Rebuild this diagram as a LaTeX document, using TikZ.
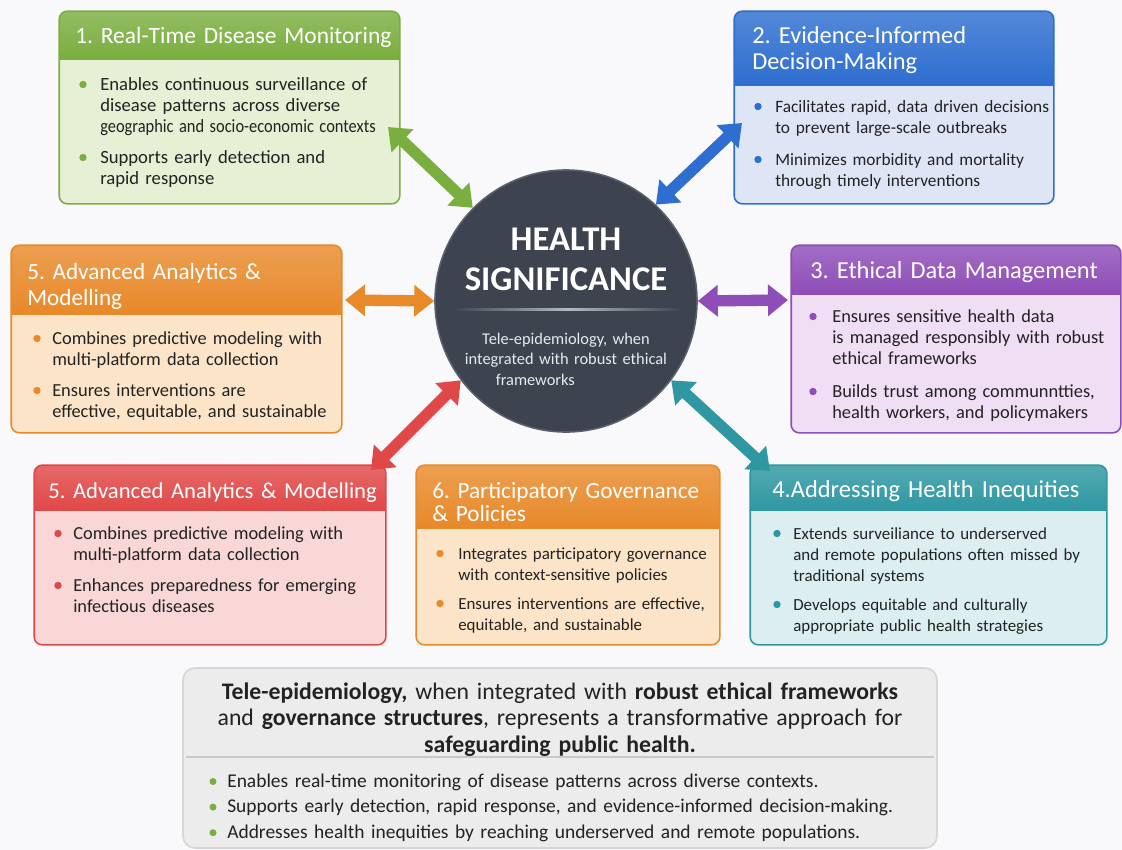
\documentclass[tikz,border=0pt]{standalone}
\usepackage{fontspec}
\setmainfont{Carlito}
\usepackage{graphicx}
\usetikzlibrary{arrows.meta}
\frenchspacing
\definecolor{bg}{HTML}{F9F9FB}
\definecolor{ink}{HTML}{222222}
\definecolor{cgreen}{HTML}{7AAE3F}
\definecolor{lgreen}{HTML}{E6F0D5}
\definecolor{cblue}{HTML}{2E6ED0}
\definecolor{lblue}{HTML}{DEE6F6}
\definecolor{corange}{HTML}{E8892A}
\definecolor{lorange}{HTML}{FCE4C8}
\definecolor{cpurple}{HTML}{8E4DB7}
\definecolor{lpurple}{HTML}{F0DEF4}
\definecolor{cred}{HTML}{E04848}
\definecolor{lred}{HTML}{F9D7D7}
\definecolor{cteal}{HTML}{2E97A1}
\definecolor{lteal}{HTML}{DCEEF0}
\definecolor{hubfill}{HTML}{3D4450}
\definecolor{hubrim}{HTML}{59606B}
\definecolor{hubrule}{HTML}{B4B9C0}
\definecolor{hubtext}{HTML}{E8EAED}
\definecolor{sumfill}{HTML}{ECECEC}
\definecolor{sumline}{HTML}{D6D6D6}
\definecolor{sumrule}{HTML}{C8C8C8}

\begin{document}
\begin{tikzpicture}[x=0.75pt,y=-0.75pt,
  panel/.style={rectangle,rounded corners=6pt,line width=1.2pt,inner sep=0pt},
  head/.style={anchor=base west,text width=300pt,align=left,inner sep=0pt,text=white,font=\fontsize{18.3}{20}\selectfont},
  item/.style={anchor=base west,text width=260pt,align=left,inner sep=0pt,text=ink,font=\fontsize{13.8}{16}\selectfont},
  itemsm/.style={item,font=\fontsize{12.7}{15.8}\selectfont},
  twoway/.style={draw=#1,line width=8.5pt,{Triangle[length=15pt,width=23pt]}-{Triangle[length=15pt,width=23pt]}}]
  \fill[bg] (0,0) rectangle (1122,850);
  \useasboundingbox (0,0) rectangle (1122,850);

  % panels: body, shaded header strip, border
  \foreach \name/\col/\lite/\xa/\ya/\xb/\yb/\yh in {mon/cgreen/lgreen/60/12/399/203/59, dec/cblue/lblue/735/12/1053/203/85, ana/corange/lorange/12/246/341/432/314, eth/cpurple/lpurple/792/246/1120/432/294, mod/cred/lred/35/466/385/644/510, gov/corange/lorange/417/466/719/644/528, ineq/cteal/lteal/751/466/1106/644/510}{
    \pgfmathsetmacro{\w}{(\xb-\xa)*0.75}
    \pgfmathsetmacro{\h}{(\yb-\ya)*0.75}
    \node[panel, fill=\lite, minimum width=\w pt, minimum height=\h pt] (\name) at ({(\xa+\xb)/2},{(\ya+\yb)/2}) {};
    \begin{scope}
      \clip[rounded corners=6pt] (\name.north west) rectangle (\name.south east);
      \shade[top color=\col!82!white, bottom color=\col] (\xa,\ya) rectangle (\xb,\yh);
    \end{scope}
    \draw[\col, line width=1.2pt, rounded corners=6pt] (\name.north west) rectangle (\name.south east);
  }

  % 1
  \node[head, font=\fontsize{17.6}{20}\selectfont] (mon-title) at (75,43) {1. Real-Time Disease Monitoring};
  \node[item, font=\fontsize{14}{16}\selectfont] (mon-i1) at (100,90) {Enables continuous surveillance of\\disease patterns across diverse\\\scalebox{0.88}[1]{geographic and socio-economic contexts}};
  \node[item, font=\fontsize{14}{16}\selectfont] (mon-i2) at (100,163) {Supports early detection and\\rapid response};
  \foreach \y in {90,163} \fill[cgreen] (83,\y-5.5) circle (3.7);

  % 2
  \node[head] (dec-title) at (752,43) {2. Evidence-Informed\\Decision-Making};
  \node[item, font=\fontsize{13}{16}\selectfont] (dec-i1) at (775,112) {Facilitates rapid, data driven decisions\\to prevent large-scale outbreaks};
  \node[item, font=\fontsize{13}{16}\selectfont] (dec-i2) at (775,165) {Minimizes morbidity and mortality\\through timely interventions};
  \foreach \y in {112,165} \fill[cblue] (758,\y-5.5) circle (3.7);

  % 5 (left)
  \node[head, font=\fontsize{17.4}{19.5}\selectfont] (ana-title) at (27,279) {5. Advanced Analytics \&\\Modelling};
  \node[item] (ana-i1) at (52,344) {Combines predictive modeling with\\multi-platform data collection};
  \node[item] (ana-i2) at (52,396) {Ensures interventions are\\effective, equitable, and sustainable};
  \foreach \y in {344,396} \fill[corange] (37,\y-5.5) circle (3.7);

  % 3
  \node[head] (eth-title) at (810,278) {3. Ethical Data Management};
  \node[item] (eth-i1) at (832,322) {Ensures sensitive health data\\is managed responsibly with robust\\ethical frameworks};
  \node[item] (eth-i2) at (832,397) {Builds trust among communntties,\\health workers, and policymakers};
  \foreach \y in {322,397} \fill[cpurple] (813,\y-5.5) circle (3.7);

  % 5 (bottom)
  \node[head, font=\fontsize{17}{20}\selectfont] (mod-title) at (48,498) {5. Advanced Analytics \& Modelling};
  \node[item] (mod-i1) at (73,539) {Combines predictive modeling with\\multi-platform data collection};
  \node[item] (mod-i2) at (73,591) {Enhances preparedness for emerging\\infectious diseases};
  \foreach \y in {539,591} \fill[cred] (58,\y-5.5) circle (3.7);

  % 6
  \node[head, font=\fontsize{17.4}{17.5}\selectfont] (gov-title) at (432,498) {6. Participatory Governance\\\& Policies};
  \node[itemsm] (gov-i1) at (458,559) {Integrates participatory governance\\with context-sensitive policies};
  \node[itemsm] (gov-i2) at (458,609) {Ensures interventions are effective,\\equitable, and sustainable};
  \foreach \y in {559,609} \fill[corange] (440,\y-5.5) circle (3.7);

  % 4
  \node[head] (ineq-title) at (772,497) {4.Addressing Health Inequities};
  \node[itemsm] (ineq-i1) at (793,539) {Extends surveiliance to underserved\\and remote populations often missed by\\traditional systems};
  \node[itemsm] (ineq-i2) at (793,610) {Develops equitable and culturally\\appropriate public health strategies};
  \foreach \y in {539,610} \fill[cteal] (777,\y-5.5) circle (3.7);

  % centre
  \node[circle, fill=hubfill, draw=hubrim, line width=1.2pt, minimum size=196.5pt, inner sep=0pt] (hub) at (566,301) {};
  \node[anchor=base, text width=200pt, align=center, inner sep=0pt, text=white, font=\bfseries\fontsize{26}{30}\selectfont] (hub-title) at (566,250) {HEALTH\\SIGNIFICANCE};
  \shade[left color=hubfill, right color=hubfill, middle color=hubrule] (453,308.5) rectangle (683,310.5);
  \node[anchor=base, text width=170pt, align=center, inner sep=0pt, text=hubtext, font=\fontsize{12.3}{15.4}\selectfont] (hub-note) at (566,344) {Tele-epidemiology, when\\integrated with robust ethical\\frameworks\hspace*{46pt}};

  % arrows
  \coordinate (mon-end) at (388,127);
  \coordinate (dec-end) at (742,123);
  \coordinate (ana-end) at (345,300);
  \coordinate (eth-end) at (788,300);
  \coordinate (mod-end) at (371,470);
  \coordinate (ineq-end) at (770,471);
  \draw[twoway=cgreen] (mon-end) -- (hub.135);
  \draw[twoway=cblue] (dec-end) -- (hub.47);
  \draw[twoway=corange] (ana-end) -- (hub.180);
  \draw[twoway=cpurple] (hub.0) -- (eth-end);
  \draw[twoway=cred] (mod-end) -- (hub.217);
  \draw[twoway=cteal] (hub.323) -- (ineq-end);

  % summary
  \node[panel, draw=sumline, fill=sumfill, rounded corners=9pt, minimum width=565.5pt, minimum height=135pt] (sum) at (560,758) {};
  \node[anchor=base, text width=560pt, align=center, inner sep=0pt, text=ink, font=\fontsize{17.8}{20}\selectfont] (sum-head) at (560,699) {\textbf{Tele-epidemiology,} when integrated with \textbf{robust ethical frameworks}\\and \textbf{governance structures}, represents a transformative approach for\\\textbf{safeguarding public health.}};
  \draw[sumrule, line width=0.8pt] (186,757) -- (934,757);
  \node[item, text width=520pt, font=\fontsize{14.6}{19.2}\selectfont] (sum-list) at (227,787) {Enables real-time monitoring of disease patterns across diverse contexts.\\Supports early detection, rapid response, and evidence-informed decision-making.\\Addresses health inequities by reaching underserved and remote populations.};
  \foreach \y in {787,812.6,838.2} \fill[cgreen] (213,\y-5.5) circle (3.5);
\end{tikzpicture}
\end{document}
